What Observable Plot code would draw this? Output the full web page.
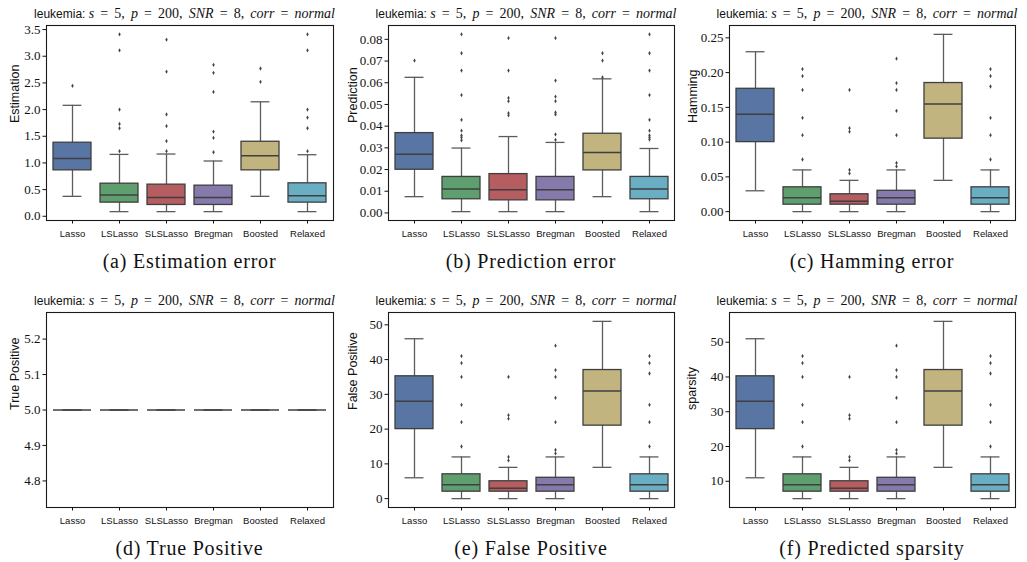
<!DOCTYPE html>
<html><head><meta charset="utf-8">
<script src="https://cdn.jsdelivr.net/npm/d3@7"></script>
<script src="https://cdn.jsdelivr.net/npm/@observablehq/plot@0.6"></script>
<style>
html,body{margin:0;padding:0;background:#fff}
#root{position:relative;width:1027px;height:562px;overflow:hidden;background:#fff}
.ttl{position:absolute;white-space:nowrap;line-height:16px;transform:translateX(-50%);color:#111}
.ttl .sans{font-family:"Liberation Sans",sans-serif;font-size:12px}
.ttl .math{font-family:"Liberation Serif",serif;font-size:14px;word-spacing:2.6px}
.cap{position:absolute;white-space:nowrap;line-height:22px;transform:translateX(-50%);font-family:"Liberation Serif",serif;font-size:20px;letter-spacing:0.8px;color:#111}
svg{position:absolute}
</style>
</head><body><div id="root"></div>
<script>
const methods = ["Lasso","LSLasso","SLSLasso","Bregman","Boosted","Relaxed"];
const colors = ["#5875a4","#5f9e6e","#b55d60","#857aab","#c2b47f","#6aaec4"];

// rows per method: [whiskerLow, q1, median, q3, whiskerHigh]
const estimationStats = [
  [0.374,0.861,1.085,1.379,2.08],
  [0.087,0.256,0.40,0.611,1.16],
  [0.087,0.212,0.35,0.593,1.167],
  [0.087,0.212,0.35,0.574,1.036],
  [0.374,0.861,1.135,1.397,2.146],
  [0.087,0.256,0.387,0.618,1.154]
];
const estimationOutliers = [
  [2.445],
  [3.41,3.11,2.0,1.73,1.65,1.22],
  [3.31,2.71,1.91,1.69,1.41,1.22],
  [2.84,2.69,2.33,1.585,1.47,1.20],
  [2.77,2.52],
  [3.41,3.11,2.0,1.85,1.65,1.22]
];
const estimationTicks = [0,0.5,1.0,1.5,2.0,2.5,3.0,3.5];

const predictionStats = [
  [0.0075,0.0199,0.0270,0.0368,0.0625],
  [0.0006,0.0063,0.0110,0.0166,0.0299],
  [0.0006,0.0058,0.0107,0.0179,0.0352],
  [0.0006,0.0058,0.0107,0.0166,0.0325],
  [0.0075,0.0196,0.0279,0.0365,0.0618],
  [0.0006,0.0063,0.0110,0.0166,0.0297]
];
const predictionOutliers = [
  [0.0702],
  [0.0823,0.0736,0.0656,0.0543,0.0429,0.0379,0.0357,0.0348,0.0335],
  [0.0806,0.0656,0.0530,0.0515,0.0460,0.0450],
  [0.0806,0.0610,0.0536,0.0515,0.0463,0.0454,0.0362,0.0337],
  [0.0736,0.0702,0.0625],
  [0.0823,0.0736,0.0656,0.0543,0.0429,0.0379,0.0357,0.0348,0.0338]
];
const predictionTicks = [0,0.01,0.02,0.03,0.04,0.05,0.06,0.07,0.08];

const hammingStats = [
  [0.03,0.10,0.14,0.1767,0.23],
  [0,0.01,0.02,0.035,0.06],
  [0,0.01,0.015,0.025,0.045],
  [0,0.01,0.02,0.03,0.06],
  [0.045,0.105,0.155,0.185,0.255],
  [0,0.01,0.02,0.035,0.06]
];
const hammingOutliers = [
  [],
  [0.205,0.195,0.175,0.135,0.11,0.075],
  [0.175,0.12,0.115,0.06,0.055],
  [0.22,0.185,0.175,0.145,0.11,0.07,0.065],
  [],
  [0.205,0.195,0.18,0.135,0.11,0.075]
];
const hammingTicks = [0,0.05,0.10,0.15,0.20,0.25];

const truePositiveStats = [
  [5,5,5,5,5],[5,5,5,5,5],[5,5,5,5,5],[5,5,5,5,5],[5,5,5,5,5],[5,5,5,5,5]
];
const truePositiveOutliers = [[],[],[],[],[],[]];
const truePositiveTicks = [4.8,4.9,5.0,5.1,5.2];

const falsePositiveStats = [
  [6,20,28,35.2,46],
  [0,2,4,7,12],
  [0,2,3,5,9],
  [0,2,4,6,12],
  [9,21,31,37,51],
  [0,2,4,7,12]
];
const falsePositiveOutliers = [
  [],
  [41,39,35,27,22,15],
  [35,24,23,12,11],
  [44,37,35,29,22,14,13],
  [],
  [41,39,36,27,22,15]
];
const falsePositiveTicks = [0,10,20,30,40,50];

const sparsityStats = [
  [11,25,33,40.2,51],
  [5,7,9,12,17],
  [5,7,8,10,14],
  [5,7,9,11,17],
  [14,26,36,42,56],
  [5,7,9,12,17]
];
const sparsityOutliers = [
  [],
  [46,44,40,32,27,20],
  [40,29,28,17,16],
  [49,42,40,34,27,19,18],
  [],
  [46,44,41,32,27,20]
];
const sparsityTicks = [10,20,30,40,50];

const titleSans = "leukemia: ";
const titleMath = '<i>s</i> = 5, <i>p</i> = 200, <i>SNR</i> = 8, <i>corr</i> = <i>normal</i>';

const panels = [
  {stats:estimationStats, outliers:estimationOutliers, ticks:estimationTicks, fmt:d3.format(".1f"), yLabel:"Estimation", caption:"(a) Estimation error", frame:[46,333,25,220], labelDx:-32},
  {stats:predictionStats, outliers:predictionOutliers, ticks:predictionTicks, fmt:d3.format(".2f"), yLabel:"Prediction", caption:"(b) Prediction error", frame:[388,674,25,220], labelDx:-36},
  {stats:hammingStats, outliers:hammingOutliers, ticks:hammingTicks, fmt:d3.format(".2f"), yLabel:"Hamming", caption:"(c) Hamming error", frame:[729,1015,25,220], labelDx:-37},
  {stats:truePositiveStats, outliers:truePositiveOutliers, ticks:truePositiveTicks, fmt:d3.format(".1f"), yLabel:"True Positive", caption:"(d) True Positive", frame:[46,333,312,507], labelDx:-32},
  {stats:falsePositiveStats, outliers:falsePositiveOutliers, ticks:falsePositiveTicks, fmt:d3.format("d"), yLabel:"False Positive", caption:"(e) False Positive", frame:[388,674,312,507], labelDx:-36},
  {stats:sparsityStats, outliers:sparsityOutliers, ticks:sparsityTicks, fmt:d3.format("d"), yLabel:"sparsity", caption:"(f) Predicted sparsity", frame:[729,1015,312,507], labelDx:-38}
];

const root = document.getElementById("root");
const SERIF = "'Liberation Serif', serif";
const SANS = "'Liberation Sans', sans-serif";

function drawPanel(cfg) {
  const [fx0, fx1, fy0, fy1] = cfg.frame;
  const mL = 46, mR = 10, mT = 5, mB = 25;
  const width = fx1 - fx0 + mL + mR, height = fy1 - fy0 + mT + mB;
  const boxes = methods.map((m, i) => {
    const s = cfg.stats[i];
    return {method: m, lo: s[0], q1: s[1], med: s[2], q3: s[3], hi: s[4]};
  });
  const outs = methods.flatMap((m, i) => cfg.outliers[i].map(v => ({method: m, value: v})));
  const all = cfg.stats.flat().concat(outs.map(d => d.value));
  let lo = d3.min(all), hi = d3.max(all);
  if (lo === hi) { const e = Math.abs(lo) * 0.05 || 0.05; lo -= e; hi += e; }
  const pad = (hi - lo) * 0.05;
  const bw = (fx1 - fx0) / 6 * 0.8;
  const cap = bw / 4;
  const line = "#5c5c5c";
  const svg = Plot.plot({
    width, height, marginLeft: mL, marginRight: mR, marginTop: mT, marginBottom: mB,
    x: {domain: methods, paddingInner: 0.2, paddingOuter: 0.1},
    y: {domain: [lo - pad, hi + pad]},
    color: {domain: methods, range: colors},
    style: {background: "transparent", overflow: "visible", color: "#111", fontFamily: SERIF},
    marks: [
      Plot.ruleX(boxes, {x: "method", y1: "lo", y2: "q1", stroke: line, strokeWidth: 1.3}),
      Plot.ruleX(boxes, {x: "method", y1: "q3", y2: "hi", stroke: line, strokeWidth: 1.3}),
      Plot.tickY(boxes, {x: "method", y: "lo", insetLeft: cap, insetRight: cap, stroke: line, strokeWidth: 1.3}),
      Plot.tickY(boxes, {x: "method", y: "hi", insetLeft: cap, insetRight: cap, stroke: line, strokeWidth: 1.3}),
      Plot.barY(boxes, {x: "method", y1: "q1", y2: "q3", fill: "method", stroke: "#3f3f3f", strokeWidth: 1.3}),
      Plot.tickY(boxes, {x: "method", y: "med", stroke: "#3f3f3f", strokeWidth: 1.5}),
      Plot.dot(outs, {x: "method", y: "value", symbol: "diamond", r: 1.3, fill: "#444", stroke: "none"}),
      Plot.frame({stroke: "#1a1a1a", strokeWidth: 1.1}),
      Plot.axisX({tickSize: 3.5, tickPadding: 6, fontFamily: SANS, fontSize: 9.5, label: null}),
      Plot.axisY({ticks: cfg.ticks, tickFormat: cfg.fmt, tickSize: 3.5, tickPadding: 2.5, fontFamily: SERIF, fontSize: 13, label: null}),
      Plot.text([cfg.yLabel], {frameAnchor: "left", rotate: -90, dx: cfg.labelDx, text: d => d, fontFamily: SANS, fontSize: 12.5, fill: "#111"})
    ]
  });
  // enforce fonts on the axis label groups
  d3.select(svg).selectAll('g[aria-label="x-axis tick label"]').attr("font-family", SANS).style("font-family", SANS);
  d3.select(svg).selectAll('g[aria-label="y-axis tick label"]').attr("font-family", SERIF).style("font-family", SERIF);
  d3.select(svg).selectAll('g[aria-label="text"]').attr("font-family", SANS).style("font-family", SANS);
  svg.style.left = (fx0 - mL) + "px";
  svg.style.top = (fy0 - mT) + "px";
  root.appendChild(svg);

  const cx = (fx0 + fx1) / 2;
  const t = document.createElement("div");
  t.className = "ttl";
  t.style.left = (cx - 5) + "px";
  t.style.top = (fy0 - 20) + "px";
  t.innerHTML = '<span class="sans">' + titleSans + '</span><span class="math">' + titleMath + '</span>';
  root.appendChild(t);

  const c = document.createElement("div");
  c.className = "cap";
  c.style.left = cx + "px";
  c.style.top = (fy1 + 30) + "px";
  c.textContent = cfg.caption;
  root.appendChild(c);
}

panels.forEach(drawPanel);
</script>
</body></html>
